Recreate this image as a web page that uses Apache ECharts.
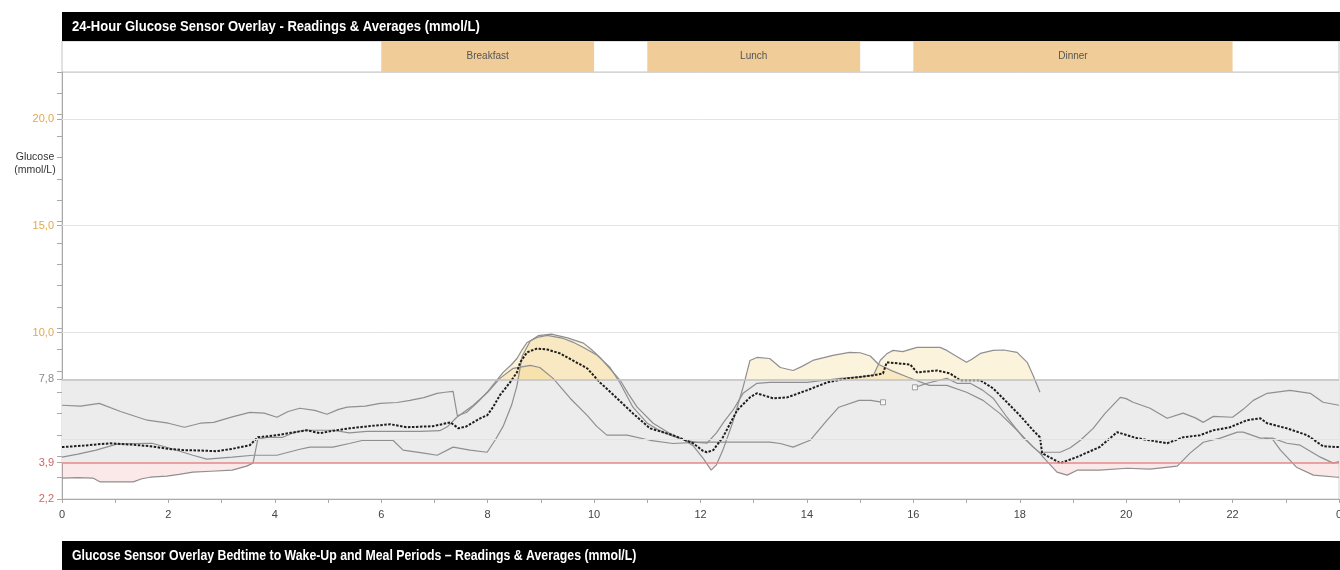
<!DOCTYPE html>
<html>
<head>
<meta charset="utf-8">
<script src="https://cdn.jsdelivr.net/npm/echarts@6/dist/echarts.min.js"></script>
<style>
  html, body { margin: 0; padding: 0; background: #fff; }
  #chart { width: 1340px; height: 570px; }
</style>
</head>
<body>
<div id="chart"></div>
<script>
// ---- Data ---------------------------------------------------------------
const titleText = '24-Hour Glucose Sensor Overlay - Readings & Averages (mmol/L)';
const nextTitleText = 'Glucose Sensor Overlay Bedtime to Wake-Up and Meal Periods \u2013 Readings & Averages (mmol/L)';

const mealNames = ['Breakfast', 'Lunch', 'Dinner'];
const mealStart = [6, 11, 16];
const mealEnd = [10, 15, 22];

const targetLow = 3.9;
const targetHigh = 7.8;
const yLabelValues = [2.2, 3.9, 7.8, 10, 15, 20];
const gridValues = [5, 10, 15, 20];

// sensor day 1 [hour, mmol/L]
const sensor1 = [
  [0,6.59],[0.35,6.55],[0.7,6.68],[1.1,6.3],[1.6,5.89],[2.0,5.75],[2.3,5.56],[2.6,5.75],[2.85,5.79],
  [3.2,6.05],[3.53,6.26],[3.8,6.22],[4.04,6.03],[4.25,6.3],[4.47,6.45],[4.75,6.35],[4.98,6.17],[5.2,6.4],
  [5.36,6.5],[5.7,6.55],[5.98,6.68],[6.3,6.72],[6.54,6.82],[6.8,6.95],[7.05,7.15],[7.2,7.2],[7.35,7.24],
  [7.43,6.1],[7.6,6.25],[7.8,6.7],[7.99,7.2],[8.15,7.7],[8.29,8.13],[8.45,8.5],[8.55,8.78],[8.65,9.2],
  [8.74,9.53],[8.93,9.77],[9.12,9.86],[9.3,9.78],[9.42,9.72],[9.6,9.55],[9.8,9.3],[10.06,8.93],[10.3,8.36],
  [10.49,7.62],[10.73,6.5],[11.0,5.75],[11.2,5.45],[11.43,5.19],[11.7,4.95],[11.95,4.85],[12.12,4.81],
  [12.3,5.3],[12.45,5.85],[12.61,6.36],[12.8,7.15],[13.06,7.62],[13.3,7.66],[13.5,7.66],[14.0,7.66],
  [14.3,7.75],[14.62,7.85],[15.0,7.92],[15.25,8.0],[15.38,8.7],[15.5,9.0],[15.62,9.16],[15.8,9.1],
  [16.07,9.3],[16.26,9.3],[16.5,9.3],[16.63,9.16],[16.8,8.9],[17.0,8.6],[17.1,8.75],[17.26,9.02],
  [17.5,9.16],[17.7,9.18],[17.95,9.07],[18.14,8.6],[18.25,8.0],[18.38,7.2],[18.41,null],
  [18.44,4.39],[18.76,4.39],[18.95,4.6],[19.14,4.95],[19.38,5.51],[19.6,6.2],[19.89,6.96],[20.0,6.9],
  [20.13,6.73],[20.45,6.45],[20.77,5.98],[21.07,6.22],[21.3,6.0],[21.45,5.79],[21.64,6.07],[22.0,6.03],
  [22.2,6.4],[22.39,6.82],[22.65,7.15],[23.08,7.29],[23.46,7.15],[23.7,6.73],[24.0,6.59]
];

// sensor day 2
const sensor2 = [
  [0,4.16],[0.3,4.3],[0.64,4.49],[1.03,4.77],[1.4,4.8],[1.69,4.81],[2.0,4.6],[2.46,4.25],[2.72,4.07],
  [3.2,4.16],[3.59,4.25],[4.04,4.25],[4.47,4.53],[4.66,4.63],[5.09,4.63],[5.4,4.8],[5.66,4.95],[6.22,4.95],
  [6.41,4.49],[6.8,4.35],[7.05,4.25],[7.35,4.63],[7.67,4.49],[7.99,4.39],[8.15,5.0],[8.29,5.6],[8.45,6.6],
  [8.55,7.5],[8.65,8.9],[8.8,9.6],[8.95,9.85],[9.2,9.92],[9.5,9.75],[9.8,9.5],[9.95,9.2],[10.11,8.83],
  [10.3,8.3],[10.49,7.76],[10.65,7.1],[10.81,6.5],[11.11,5.75],[11.48,5.19],[11.7,4.95],[11.86,4.7],
  [12.05,4.1],[12.2,3.55],[12.3,3.8],[12.42,4.49],[12.6,5.75],[12.8,7.43],[12.93,8.69],[13.06,8.83],
  [13.3,8.78],[13.5,8.36],[13.74,8.22],[13.9,8.4],[14.11,8.69],[14.49,8.93],[14.8,9.07],[15.0,9.05],
  [15.19,8.9],[15.35,8.5],[15.6,8.2],[15.9,7.9],[16.3,7.52],[16.63,7.52],[17.0,7.2],[17.31,6.82],
  [17.63,6.2],[17.95,5.42],[18.25,4.63],[18.44,4.25],[18.47,null],
  [22.6,5.05],[22.75,5.0],[22.9,4.49],[23.2,3.69],[23.52,3.32],[23.97,3.22],[24.0,3.22]
];

// sensor day 3
const sensor3 = [
  [0,3.18],[0.3,3.2],[0.58,3.18],[0.72,3.0],[1.0,3.0],[1.34,3.0],[1.5,3.15],[1.66,3.22],[1.97,3.27],
  [2.2,3.35],[2.46,3.46],[2.8,3.5],[3.2,3.55],[3.47,3.74],[3.59,3.88],[3.68,5.0],[3.85,5.09],[4.15,5.09],
  [4.35,5.3],[4.53,5.42],[5.09,5.42],[5.4,5.3],[5.73,5.37],[6.35,5.37],[6.73,5.37],[7.1,5.4],[7.25,5.6],
  [7.42,6.03],[7.73,6.59],[8.0,7.2],[8.23,7.85],[8.48,8.32],[8.8,8.46],[8.98,8.36],[9.23,7.85],[9.55,6.92],
  [9.87,6.12],[10.05,5.6],[10.24,5.19],[10.62,5.19],[11.05,4.95],[11.48,4.8],[12.0,4.86],[12.6,4.86],
  [13.3,4.86],[13.5,4.8],[13.74,4.63],[14.06,4.95],[14.38,5.89],[14.6,6.5],[14.98,6.82],[15.2,6.82],
  [15.43,6.73],[15.7,null],
  [16.03,7.43],[16.26,7.62],[16.63,7.85],[16.82,7.62],[17.07,7.62],[17.3,7.3],[17.5,6.92],[17.76,6.03],
  [18.06,5.09],[18.38,4.35],[18.44,4.16],[18.7,3.46],[18.89,3.32],[19.08,3.55],[19.5,3.55],[20.02,3.64],
  [20.45,3.6],[20.96,3.74],[21.2,4.35],[21.45,4.86],[21.77,5.05],[22.09,5.33],[22.2,5.33],[22.52,5.05],
  [22.75,5.05],[23.02,4.81],[23.27,4.72],[23.65,4.16],[23.89,3.88],[24.0,3.95]
];

// hours where sensor day 3 has a reading gap (drawn with hollow squares)
const sensor3GapHours = [15.43, 16.03];

// hourly average of the sensor days
const average = [
  [0,4.63],[0.4,4.7],[0.9,4.81],[1.3,4.75],[1.66,4.67],[2.0,4.55],[2.28,4.49],[2.6,4.47],[2.91,4.44],
  [3.2,4.55],[3.53,4.72],[3.68,5.09],[4.04,5.19],[4.3,5.3],[4.6,5.42],[4.85,5.28],[5.1,5.4],[5.41,5.51],
  [5.8,5.62],[6.17,5.7],[6.48,5.56],[6.97,5.61],[7.3,5.79],[7.45,5.51],[7.6,5.6],[7.86,5.98],[7.99,6.12],
  [8.1,6.5],[8.23,7.06],[8.42,7.66],[8.55,8.13],[8.61,8.6],[8.74,9.07],[8.93,9.25],[9.12,9.2],[9.36,9.02],
  [9.6,8.69],[9.87,8.32],[10.11,7.66],[10.43,6.92],[10.73,6.21],[11.05,5.51],[11.48,5.19],[11.86,4.81],
  [12.05,4.45],[12.12,4.39],[12.24,4.49],[12.42,5.09],[12.69,6.36],[12.93,6.96],[13.06,7.15],[13.36,6.92],
  [13.63,6.96],[14.0,7.29],[14.38,7.66],[14.76,7.85],[15.24,7.99],[15.43,8.08],[15.5,8.6],[15.94,8.5],
  [16.07,8.13],[16.45,8.22],[16.69,8.08],[16.88,7.76],[17.26,7.76],[17.5,7.38],[17.76,6.73],[18.0,6.12],
  [18.25,5.42],[18.38,5.09],[18.42,4.35],[18.76,3.88],[19.07,4.16],[19.5,4.63],[19.83,5.33],[20.2,5.05],
  [20.77,4.81],[21.07,5.09],[21.39,5.19],[21.64,5.42],[21.95,5.56],[22.27,5.89],[22.52,5.98],[22.65,5.75],
  [23.02,5.51],[23.4,5.19],[23.7,4.67],[24.0,4.63]
];

const sensors = [sensor1, sensor2, sensor3];

// ---- Layout -------------------------------------------------------------
const yMin = 2.2, yMax = 22.2;
const plotLeft = 62, plotRight = 1, plotTop = 72, plotHeight = 427;
const pxPerUnit = plotHeight / (yMax - yMin);
const highTop = plotTop;
const highHeight = (yMax - targetHigh) * pxPerUnit;
const lowTop = plotTop + (yMax - targetLow) * pxPerUnit;
const lowHeight = (targetLow - yMin) * pxPerUnit;

const FONT = '"Liberation Sans", Arial, sans-serif';
const AXIS_GREY = '#a9a9a9';

const yTickValues = [];
for (let v = yMin; v <= yMax + 1e-9; v += 1) yTickValues.push(+v.toFixed(1));
yLabelValues.forEach(v => { if (!yTickValues.includes(v)) yTickValues.push(v); });

function labelColor(v) {
  const n = parseFloat(v);
  if (n <= targetLow + 1e-6) return '#cf6464';
  if (n < 9) return '#8a8a8a';
  return '#e0a84f';
}

const hiddenX = { type: 'value', min: 0, max: 24, show: false };

const series = [];

// target range band, reference lines and grid lines
series.push({
  type: 'line', xAxisIndex: 0, yAxisIndex: 0, data: [], z: 1, silent: true,
  markArea: {
    silent: true,
    itemStyle: { color: '#ececec' },
    data: [[{ yAxis: targetLow }, { yAxis: targetHigh }]]
  },
  markLine: {
    silent: true, symbol: 'none', label: { show: false },
    data: gridValues.map(v => ({ yAxis: v, lineStyle: { color: '#e3e3e3', width: 1, type: 'solid' } }))
      .concat([
        { yAxis: targetHigh, lineStyle: { color: '#c2c2c2', width: 1.5, type: 'solid' } },
        { yAxis: targetLow, lineStyle: { color: '#e48a8a', width: 1.5, type: 'solid' } }
      ])
  }
});

// meal periods
series.push({
  type: 'line', xAxisIndex: 1, yAxisIndex: 1, data: [], silent: true,
  markArea: {
    silent: true,
    itemStyle: { color: '#f0cc98' },
    label: { show: true, position: 'inside', color: '#555', fontSize: 10, fontFamily: FONT },
    data: mealNames.map((name, i) => [{ name: name, xAxis: mealStart[i] }, { xAxis: mealEnd[i] }])
  }
});

// fills above the target range and below the low limit
sensors.forEach(d => {
  series.push({
    type: 'line', xAxisIndex: 2, yAxisIndex: 2, data: d, z: 2, silent: true, clip: true,
    symbol: 'none', connectNulls: false,
    lineStyle: { width: 0, opacity: 0 },
    areaStyle: { color: 'rgba(240,196,96,0.30)', origin: 'start' }
  });
  series.push({
    type: 'line', xAxisIndex: 3, yAxisIndex: 3, data: d, z: 2, silent: true, clip: true,
    symbol: 'none', connectNulls: false,
    lineStyle: { width: 0, opacity: 0 },
    areaStyle: { color: 'rgba(232,128,128,0.26)', origin: 'end' }
  });
});

// sensor readings
sensors.forEach(d => {
  series.push({
    type: 'line', xAxisIndex: 0, yAxisIndex: 0, data: d, z: 3, silent: true,
    symbol: 'none', connectNulls: false,
    lineStyle: { color: '#8f8f8f', width: 1.2 }
  });
});

// sensor gap markers
series.push({
  type: 'scatter', xAxisIndex: 0, yAxisIndex: 0, z: 5, silent: true,
  data: sensor3.filter(p => sensor3GapHours.includes(p[0])),
  symbol: 'rect', symbolSize: 5,
  itemStyle: { color: '#fff', borderColor: '#8a8a8a', borderWidth: 1 }
});

// average
series.push({
  type: 'line', xAxisIndex: 0, yAxisIndex: 0, data: average, z: 4, silent: true,
  symbol: 'none',
  lineStyle: { color: '#1e1e1e', width: 2, type: [2.5, 1.5] }
});

const gridBase = { left: plotLeft, right: plotRight, outerBoundsMode: 'none', containLabel: false };

const option = {
  animation: false,
  backgroundColor: '#fff',
  textStyle: { fontFamily: FONT },
  grid: [
    Object.assign({ top: plotTop, height: plotHeight, show: true,
      borderColor: '#cfcfcf', borderWidth: 1, backgroundColor: 'transparent' }, gridBase),
    Object.assign({ top: 41, height: 31, show: true,
      borderColor: '#c4c4c4', borderWidth: 1, backgroundColor: '#fff' }, gridBase),
    Object.assign({ top: highTop, height: highHeight }, gridBase),
    Object.assign({ top: lowTop, height: lowHeight }, gridBase)
  ],
  xAxis: [
    {
      type: 'value', gridIndex: 0, min: 0, max: 24, interval: 2,
      axisLine: { show: true, lineStyle: { color: AXIS_GREY, width: 1 } },
      axisTick: { show: true, length: 4, lineStyle: { color: AXIS_GREY } },
      minorTick: { show: true, splitNumber: 2, length: 4, lineStyle: { color: AXIS_GREY } },
      splitLine: { show: false },
      axisLabel: { color: '#444', fontSize: 11, margin: 10, fontFamily: FONT,
        showMaxLabel: true, hideOverlap: false,
        formatter: v => (v === 24 ? '0' : String(v)) }
    },
    Object.assign({ gridIndex: 1 }, hiddenX),
    Object.assign({ gridIndex: 2 }, hiddenX),
    Object.assign({ gridIndex: 3 }, hiddenX)
  ],
  yAxis: [
    {
      type: 'value', gridIndex: 0, min: yMin, max: yMax,
      axisLine: { show: true, lineStyle: { color: AXIS_GREY, width: 1 } },
      axisTick: { show: true, length: 5, customValues: yTickValues, lineStyle: { color: AXIS_GREY } },
      splitLine: { show: false },
      axisLabel: {
        customValues: yLabelValues, fontSize: 11, margin: 8, fontFamily: FONT,
        color: v => labelColor(v),
        formatter: v => Number(v).toFixed(1).replace('.', ',')
      }
    },
    { type: 'value', gridIndex: 1, min: 0, max: 1, show: false },
    { type: 'value', gridIndex: 2, min: targetHigh, max: yMax, show: false },
    { type: 'value', gridIndex: 3, min: yMin, max: targetLow, show: false }
  ],
  graphic: [
    { type: 'rect', z: 10, shape: { x: 62, y: 12, width: 1278, height: 29 }, style: { fill: '#000' } },
    { type: 'text', z: 11, x: 72, y: 27, scaleX: 0.87,
      style: { text: titleText, fill: '#fff', fontSize: 15, fontWeight: 'bold', fontFamily: FONT,
        textVerticalAlign: 'middle', verticalAlign: 'middle' } },
    { type: 'rect', z: 10, shape: { x: 62, y: 541, width: 1278, height: 40 }, style: { fill: '#000' } },
    { type: 'text', z: 11, x: 72, y: 556, scaleX: 0.82,
      style: { text: nextTitleText, fill: '#fff', fontSize: 15, fontWeight: 'bold', fontFamily: FONT,
        textVerticalAlign: 'middle', verticalAlign: 'middle' } },
    { type: 'text', z: 11, x: 35, y: 157,
      style: { text: 'Glucose', fill: '#333', fontSize: 10.5, fontFamily: FONT,
        textAlign: 'center', align: 'center', textVerticalAlign: 'middle', verticalAlign: 'middle' } },
    { type: 'text', z: 11, x: 35, y: 170,
      style: { text: '(mmol/L)', fill: '#333', fontSize: 10.5, fontFamily: FONT,
        textAlign: 'center', align: 'center', textVerticalAlign: 'middle', verticalAlign: 'middle' } }
  ],
  series: series
};

const chart = echarts.init(document.getElementById('chart'), null, { renderer: 'canvas' });
chart.setOption(option);
</script>
</body>
</html>
